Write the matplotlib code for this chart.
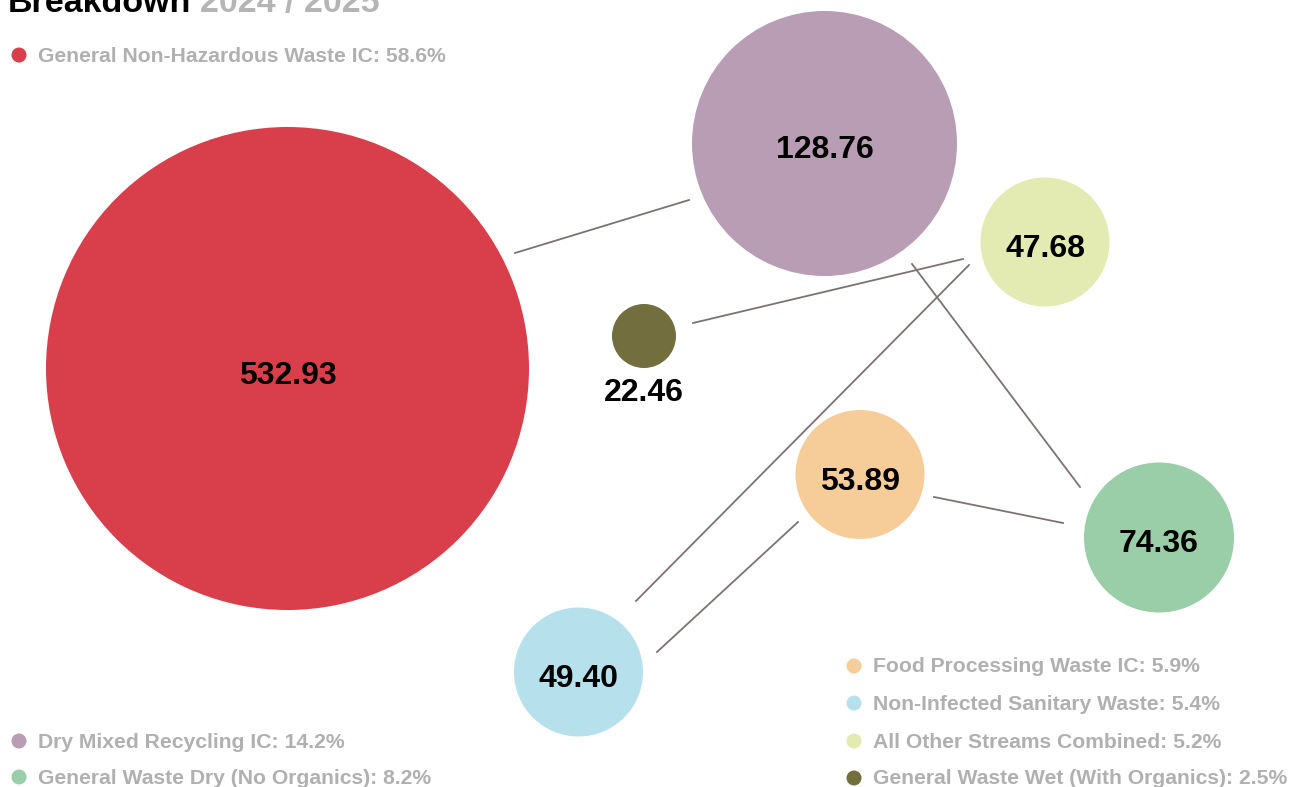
#!/usr/bin/env python3

import matplotlib
matplotlib.use('Agg')
import matplotlib.pyplot as plt
from matplotlib.patches import Circle

# data
categories = ['General Non-Hazardous Waste IC', 'Dry Mixed Recycling IC',
              'General Waste Dry (No Organics)', 'Food Processing Waste IC',
              'Non-Infected Sanitary Waste', 'All Other Streams Combined',
              'General Waste Wet (With Organics)']
values = [532.93, 128.76, 74.36, 53.89, 49.40, 47.68, 22.46]
shares = [58.6, 14.2, 8.2, 5.9, 5.4, 5.2, 2.5]
colors = ['#d93e4b', '#b89db5', '#99cea8', '#f6cd99', '#b6e0ec', '#e3ebb3', '#736e3e']

# layout (pixel space of the 1291x787 canvas)
centers = [(287.5, 368.5), (824.5, 143.5), (1159, 537.5), (860, 474.5),
           (578.5, 672), (1045, 242), (644, 336)]
radii = [241.5, 132.5, 75, 64.5, 64.5, 64.5, 32]
links = [((515, 253), (689, 200)),
         ((693, 323), (963, 259)),
         ((636, 601), (969, 265)),
         ((912, 264), (1080, 487)),
         ((934, 497), (1063, 523)),
         ((657, 652), (798, 522))]
legend_pos = [(19, 55), (19, 741), (19, 777), (854, 666), (854, 703), (854, 741), (854, 778)]

W, H = 1291, 787
fig = plt.figure(figsize=(W / 100, H / 100), dpi=100)
ax = fig.add_axes([0, 0, 1, 1])
ax.set_xlim(0, W)
ax.set_ylim(H, 0)
ax.set_aspect('equal')
ax.axis('off')

font = 'Liberation Sans'

for (p0, p1) in links:
	ax.plot([p0[0], p1[0]], [p0[1], p1[1]], color='#7d7272', lw=1.3, zorder=1)

for i, v in enumerate(values):
	cx, cy = centers[i]
	ax.add_patch(Circle((cx, cy), radii[i], color=colors[i], lw=0, zorder=2))
	if radii[i] > 50:
		ax.text(cx, cy + 7, '%.2f' % v, ha='center', va='center', fontsize=23,
		        fontweight='bold', family=font, color='black', zorder=3)
	else:
		ax.text(cx, cy + radii[i] + 25, '%.2f' % v, ha='center', va='center',
		        fontsize=23, fontweight='bold', family=font, color='black', zorder=3)

# legend
for i, name in enumerate(categories):
	x, y = legend_pos[i]
	ax.add_patch(Circle((x, y), 7.5, color=colors[i], lw=0))
	ax.text(x + 19, y + 1, '%s: %.1f%%' % (name, shares[i]), ha='left', va='center',
	        fontsize=15.2, fontweight='bold', family=font, color='#b0b0b0')

# title (cut at the top, as in the source)
ax.text(8, 12, 'Breakdown', ha='left', va='baseline', fontsize=24.5,
        fontweight='bold', family=font, color='black')
ax.text(200, 12, '2024 / 2025', ha='left', va='baseline', fontsize=24.5,
        fontweight='bold', family=font, color='#b5b5b5')

fig.savefig('out.png', dpi=100)
